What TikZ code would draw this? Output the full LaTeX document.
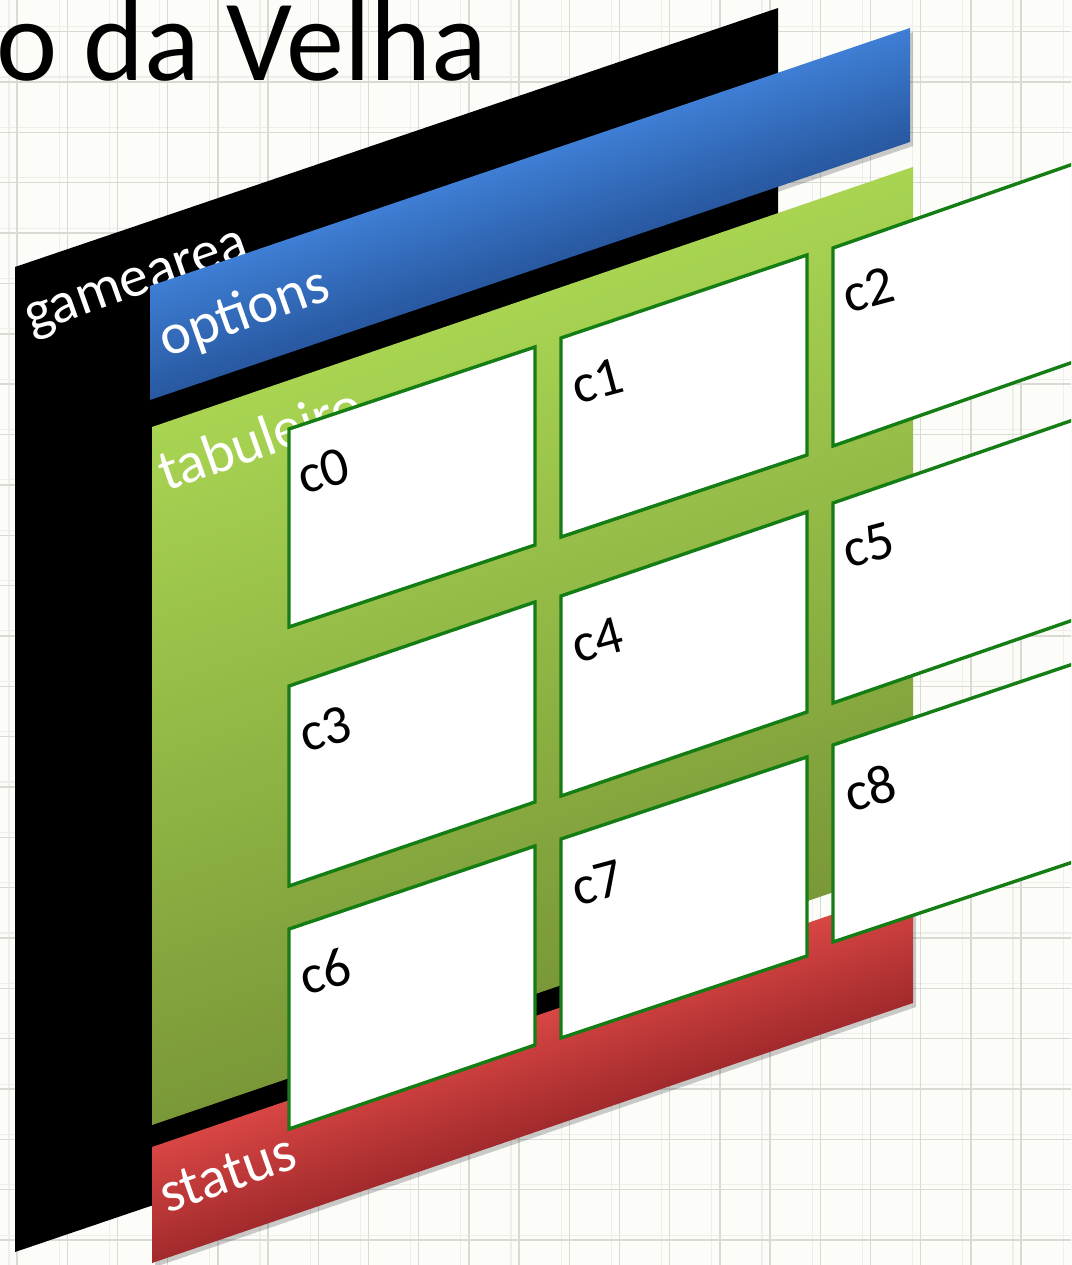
\documentclass[tikz,border=0pt]{standalone}
\usepackage{fontspec}
\setmainfont{Carlito}
\definecolor{bgcol}{RGB}{252,252,249}
\definecolor{gridmain}{RGB}{218,218,213}
\definecolor{gridfaint}{RGB}{238,238,234}
\definecolor{bluetop}{RGB}{62,126,212}
\definecolor{bluebot}{RGB}{40,88,160}
\definecolor{greentop}{RGB}{168,212,82}
\definecolor{greenmid}{RGB}{150,192,72}
\definecolor{greenbot}{RGB}{122,152,56}
\definecolor{redtop}{RGB}{216,70,68}
\definecolor{redbot}{RGB}{162,42,44}
\definecolor{cellline}{RGB}{20,125,20}
\begin{document}
\begin{tikzpicture}[x=1pt,y=-1pt,
  cell/.style={draw=cellline, line width=3.4pt, fill=white, line join=miter},
  panellabel/.style={text=white, font=\fontsize{58}{60}\selectfont, anchor=base west, inner sep=0pt, rotate=19.5},
  celllabel/.style={text=black, font=\fontsize{55}{58}\selectfont, anchor=base west, inner sep=0pt, rotate=15},
  shadowfill/.style={fill=black, opacity=0.2}
]
\useasboundingbox (0,0) rectangle (1071,1265);
\clip (0,0) rectangle (1071,1265);
\fill[bgcol] (0,0) rectangle (1071,1265);
% grid paper
\foreach \k in {0,...,21} {
  \draw[gridfaint, line width=1.1pt] ({9+50.2*\k},0) -- ({9+50.2*\k},1265);
}
\foreach \k in {0,...,24} {
  \draw[gridfaint, line width=1.1pt] (0,{26.7+50.35*\k}) -- (1071,{26.7+50.35*\k});
}
\foreach \k in {0,...,21} {
  \draw[gridmain, line width=1.4pt] ({17+50.2*\k},0) -- ({17+50.2*\k},1265);
}
\foreach \k in {0,...,24} {
  \draw[gridmain, line width=1.4pt] (0,{31.7+50.35*\k}) -- (1071,{31.7+50.35*\k});
}
% title
\node[anchor=base west, inner sep=0pt, font=\fontsize{116}{120}\selectfont] (title) at (-4,81) {o da Velha};
% gamearea (black)
\fill[black] (15,267) -- (778,8) -- (778,993) -- (15,1252) -- cycle;
\node[panellabel] (lgame) at (31,334) {gamearea};
% options (blue)
\fill[shadowfill] (153,290) -- (913,32) -- (913,146) -- (153,404) -- cycle;
\begin{scope}[transform canvas={shift={(150,286)}, yslant=0.3395}]
  \shade[top color=bluetop, bottom color=bluebot] (0,0) rectangle (760,114);
\end{scope}
\node[panellabel] (lopt) at (166,358) {options};
% tabuleiro (green)
\begin{scope}[transform canvas={shift={(152,427)}, yslant=0.3417}]
  \shade[top color=greentop, middle color=greenmid, bottom color=greenbot] (0,0) rectangle (761,698);
\end{scope}
\node[panellabel] (ltab) at (166,492) {tabuleiro};
% status (red)
\fill[shadowfill] (155,1151) -- (916,891) -- (916,1007) -- (155,1267) -- cycle;
\begin{scope}[transform canvas={shift={(152,1147)}, yslant=0.3417}]
  \shade[top color=redtop, bottom color=redbot] (0,0) rectangle (761,116);
\end{scope}
\node[panellabel] (lstat) at (167,1214) {status};
% cells
\draw[cell] (289,429) -- (535,347) -- (535,545) -- (289,627) -- cycle;
\draw[cell] (561,338) -- (807,255) -- (807,455) -- (561,537) -- cycle;
\draw[cell] (833,248) -- (1079,162) -- (1079,360) -- (833,446) -- cycle;
\draw[cell] (289,686) -- (535,602) -- (535,802) -- (289,886) -- cycle;
\draw[cell] (561,596) -- (807,512) -- (807,712) -- (561,796) -- cycle;
\draw[cell] (833,503) -- (1079,418) -- (1079,618) -- (833,703) -- cycle;
\draw[cell] (289,929) -- (535,846) -- (535,1045) -- (289,1129) -- cycle;
\draw[cell] (561,839) -- (807,757) -- (807,956) -- (561,1038) -- cycle;
\draw[cell] (833,745) -- (1079,662) -- (1079,860) -- (833,942) -- cycle;
\node[celllabel] (c0) at (303,495) {c0};
\node[celllabel] (c1) at (577,405) {c1};
\node[celllabel] (c2) at (848,314) {c2};
\node[celllabel] (c3) at (305,753) {c3};
\node[celllabel] (c4) at (577,664) {c4};
\node[celllabel] (c5) at (848,569) {c5};
\node[celllabel] (c6) at (305,996) {c6};
\node[celllabel] (c7) at (577,907) {c7};
\node[celllabel] (c8) at (850,813) {c8};
\end{tikzpicture}
\end{document}
